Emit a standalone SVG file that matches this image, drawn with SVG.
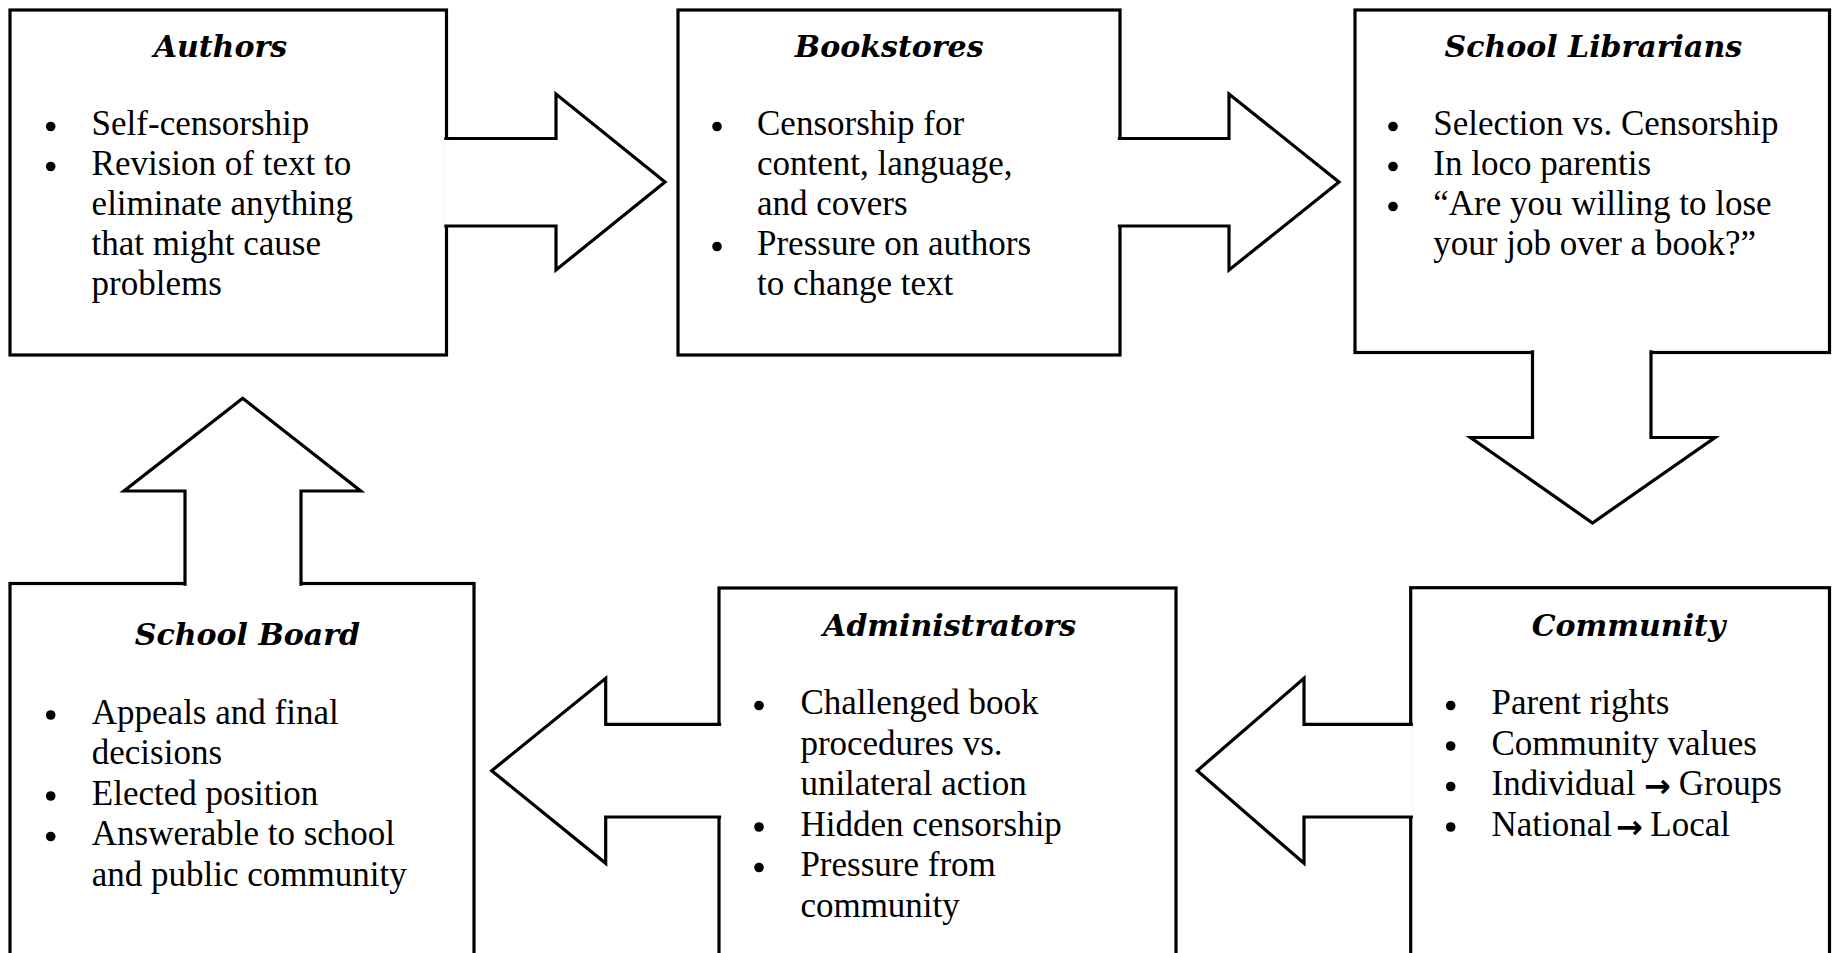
<svg xmlns="http://www.w3.org/2000/svg" width="1843" height="953" viewBox="0 0 1843 953">
<style>
.box{fill:#fff;stroke:#000;stroke-width:3.2}
.arr{fill:#fff;stroke:#000;stroke-width:3.2;stroke-linejoin:miter}
.title{font-family:"DejaVu Serif",serif;font-weight:bold;font-style:italic;font-size:30px;text-anchor:middle;fill:#000}
.body{font-family:"Liberation Serif","Times New Roman",serif;font-size:35px;fill:#000}
.bul{fill:#000}
.ar{font-family:"DejaVu Sans",sans-serif;font-weight:bold;font-size:32px}
</style>
<rect width="1843" height="953" fill="#fff"/>
<g id="authors">
<rect class="box" x="10" y="10" width="436.5" height="345"/>
<text class="title" x="220.4" y="57">Authors</text>
<circle class="bul" cx="50.7" cy="126.5" r="4.8"/>
<circle class="bul" cx="50.7" cy="166.5" r="4.8"/>
<text class="body" x="91.6" y="135">Self-censorship</text>
<text class="body" x="91.6" y="175">Revision of text to</text>
<text class="body" x="91.6" y="215">eliminate anything</text>
<text class="body" x="91.6" y="255">that might cause</text>
<text class="body" x="91.6" y="295">problems</text>
</g>
<g id="bookstores">
<rect class="box" x="678" y="10" width="442" height="345"/>
<text class="title" x="889.2" y="57">Bookstores</text>
<circle class="bul" cx="717" cy="126.5" r="4.8"/>
<circle class="bul" cx="717" cy="246.5" r="4.8"/>
<text class="body" x="757" y="135">Censorship for</text>
<text class="body" x="757" y="175">content, language,</text>
<text class="body" x="757" y="215">and covers</text>
<text class="body" x="757" y="255">Pressure on authors</text>
<text class="body" x="757" y="295">to change text</text>
</g>
<g id="school-librarians">
<rect class="box" x="1355" y="10" width="474.5" height="342.5"/>
<text class="title" x="1593.3" y="57">School Librarians</text>
<circle class="bul" cx="1393" cy="126.5" r="4.8"/>
<circle class="bul" cx="1393" cy="166.5" r="4.8"/>
<circle class="bul" cx="1393" cy="206.5" r="4.8"/>
<text class="body" x="1433.3" y="135">Selection vs. Censorship</text>
<text class="body" x="1433.3" y="175">In loco parentis</text>
<text class="body" x="1433.3" y="215">“Are you willing to lose</text>
<text class="body" x="1433.3" y="255">your job over a book?”</text>
</g>
<g id="school-board">
<rect class="box" x="10" y="583.5" width="464" height="390"/>
<text class="title" x="247.4" y="645">School Board</text>
<circle class="bul" cx="50.7" cy="715" r="4.8"/>
<circle class="bul" cx="50.7" cy="796" r="4.8"/>
<circle class="bul" cx="50.7" cy="836.5" r="4.8"/>
<text class="body" x="91.8" y="723.5">Appeals and final</text>
<text class="body" x="91.8" y="764">decisions</text>
<text class="body" x="91.8" y="804.5">Elected position</text>
<text class="body" x="91.8" y="845">Answerable to school</text>
<text class="body" x="91.8" y="885.5">and public community</text>
</g>
<g id="administrators">
<rect class="box" x="719" y="588" width="457" height="390"/>
<text class="title" x="949.7" y="636">Administrators</text>
<circle class="bul" cx="759" cy="705.5" r="4.8"/>
<circle class="bul" cx="759" cy="827" r="4.8"/>
<circle class="bul" cx="759" cy="867.5" r="4.8"/>
<text class="body" x="800.4" y="714">Challenged book</text>
<text class="body" x="800.4" y="754.5">procedures vs.</text>
<text class="body" x="800.4" y="795">unilateral action</text>
<text class="body" x="800.4" y="835.5">Hidden censorship</text>
<text class="body" x="800.4" y="876">Pressure from</text>
<text class="body" x="800.4" y="916.5">community</text>
</g>
<g id="community">
<rect class="box" x="1410.7" y="587.7" width="418.8" height="390"/>
<text class="title" x="1628.5" y="636">Community</text>
<circle class="bul" cx="1450.7" cy="705.5" r="4.8"/>
<circle class="bul" cx="1450.7" cy="746" r="4.8"/>
<circle class="bul" cx="1450.7" cy="786.5" r="4.8"/>
<circle class="bul" cx="1450.7" cy="827" r="4.8"/>
<text class="body" x="1491.5" y="714">Parent rights</text>
<text class="body" x="1491.5" y="754.5">Community values</text>
<text class="body" x="1491.5" y="795">Individual<tspan class="ar" x="1644" dy="2">→</tspan><tspan x="1670" dy="-2"> Groups</tspan></text>
<text class="body" x="1491.5" y="835.5">National<tspan class="ar" x="1616" dy="2">→</tspan><tspan x="1641.5" dy="-2"> Local</tspan></text>
</g>
<g id="connectors">
<path class="arr" d="M444.3,138.5 H556 V94 L665,182 L556,270 V226 H444.3"/>
<path class="arr" d="M1117.8,138.5 H1229 V94 L1339,182 L1229,270 V226 H1117.8"/>
<path class="arr" d="M1532.5,350.3 V437.5 H1470.5 L1592.5,523 L1715,437.5 H1651 V350.3"/>
<path class="arr" d="M1412.9,724.3 H1304 V678.3 L1197.3,770.7 L1304,863.3 V817 H1412.9"/>
<path class="arr" d="M721.2,724.3 H605.7 V678.3 L491.7,770.7 L605.7,863.3 V817 H721.2"/>
<path class="arr" d="M185,585.7 V491 H124 L242.7,398.3 L360.7,491 H301 V585.7"/>
</g>
</svg>
